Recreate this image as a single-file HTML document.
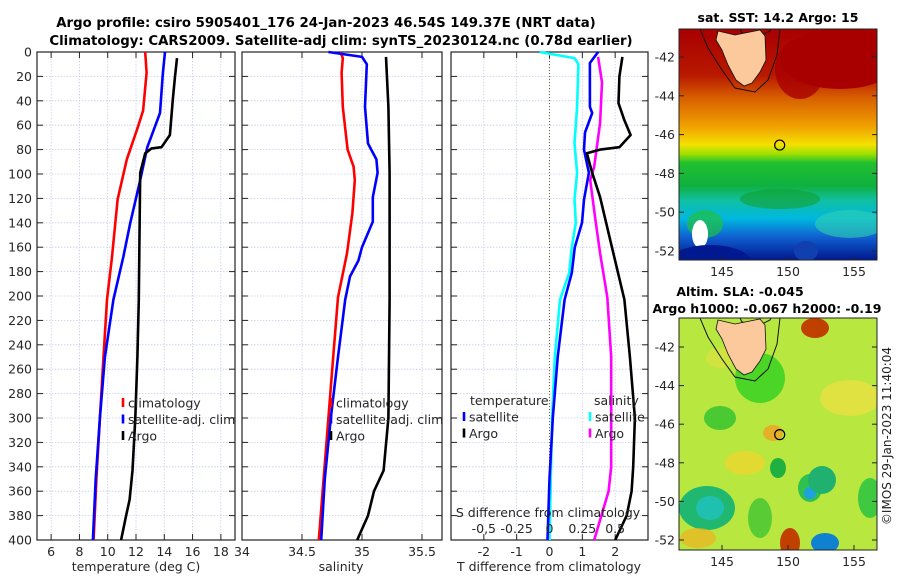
<!DOCTYPE html>
<html><head><meta charset="utf-8"><style>
body{margin:0;background:#fff;}
svg{display:block;font-family:"DejaVu Sans","Liberation Sans",sans-serif;}
</style></head><body>
<svg id="c" width="900" height="580" viewBox="0 0 900 580">
<defs>
<linearGradient id="sstg" x1="0" y1="0" x2="0" y2="1">
<stop offset="0" stop-color="#a80000"/><stop offset="0.2" stop-color="#b81800"/>
<stop offset="0.3" stop-color="#d86000"/><stop offset="0.42" stop-color="#f0a000"/>
<stop offset="0.5" stop-color="#f4e000"/><stop offset="0.54" stop-color="#a0e000"/>
<stop offset="0.58" stop-color="#20c030"/><stop offset="0.68" stop-color="#10b040"/>
<stop offset="0.74" stop-color="#10c0a0"/><stop offset="0.82" stop-color="#00b8e0"/>
<stop offset="0.9" stop-color="#1060d0"/><stop offset="1" stop-color="#001890"/>
</linearGradient>
<clipPath id="m1"><rect x="679" y="29" width="198" height="231"/></clipPath>
<clipPath id="m2"><rect x="679" y="318" width="198" height="232"/></clipPath>
</defs>
<g id="titles" font-weight="bold" font-size="13.3" text-anchor="middle" fill="#000">
<text x="326" y="27">Argo profile: csiro 5905401_176 24-Jan-2023 46.54S 149.37E (NRT data)</text>
<text x="341" y="45">Climatology: CARS2009. Satellite-adj clim: synTS_20230124.nc (0.78d earlier)</text>
<text x="778" y="22" font-size="12.5">sat. SST: 14.2 Argo: 15</text>
<text x="740" y="296" font-size="12.5">Altim. SLA: -0.045</text>
<text x="767" y="313" font-size="12.5">Argo h1000: -0.067 h2000: -0.19</text>
</g>
<g id="maps"></g>
<g id="panels"></g>
<text transform="translate(891,436) rotate(-90)" font-size="12" text-anchor="middle" fill="#222">©IMOS 29-Jan-2023 11:40:04</text>
</svg>
<script>
// ---- Data (depth in m) ----
const tClimDepth=[0,17,48,61,88,121,168,203,250,300,350,400];
const tClimVal=[12.65,12.75,12.5,12.15,11.35,10.7,10.3,9.95,9.7,9.45,9.2,9.0];
const tSatDepth=[0,17,50,78,105,140,168,203,250,300,350,400];
const tSatVal=[14.05,13.9,13.7,12.8,12.3,11.6,11.1,10.4,9.8,9.45,9.15,8.95];
const tArgoDepth=[5,21,39,68,78,79,83,99,150,203,250,300,343,367,380,400];
const tArgoVal=[14.9,14.75,14.6,14.4,13.8,13.1,12.65,12.3,12.25,12.2,12.1,11.95,11.75,11.55,11.3,10.95];
const sClimDepth=[0,5,17,45,80,94,105,132,165,201,250,300,350,400];
const sClimVal=[34.82,34.84,34.83,34.84,34.88,34.93,34.94,34.92,34.875,34.8,34.76,34.72,34.68,34.64];
const sSatDepth=[0,4,10,45,75,88,99,119,139,160,171,184,203,250,300,350,400];
const sSatVal=[34.72,35.0,35.04,35.025,35.05,35.12,35.13,35.09,35.09,35.0,34.97,34.9,34.86,34.8,34.74,34.69,34.66];
const sArgoDepth=[4,45,99,203,300,343,360,380,400];
const sArgoVal=[35.2,35.22,35.23,35.23,35.22,35.18,35.1,35.05,34.96];
const dSatSDepth=[0,5,10,45,75,99,121,140,160,181,203,250,300,350,400];
const dSatSVal=[-0.075,0.19,0.22,0.21,0.19,0.21,0.19,0.2,0.17,0.15,0.08,0.04,0.02,0.01,0.0];
const dSatTDepth=[0,9,45,50,66,80,99,121,140,160,181,203,250,300,350,400];
const dSatTVal=[1.48,1.23,1.23,1.3,1.08,1.05,1.2,1.05,0.99,0.77,0.68,0.46,0.25,0.1,0.0,-0.06];
const dArgoSDepth=[4,25,58,94,105,138,165,201,250,300,340,360,400];
const dArgoSVal=[0.37,0.4,0.385,0.34,0.31,0.35,0.385,0.44,0.47,0.47,0.47,0.45,0.34];
const dArgoTDepth=[4,20,42,56,68,78,80,83,99,119,154,203,250,300,340,360,380,400];
const dArgoTVal=[2.22,2.13,2.1,2.28,2.47,2.13,1.54,1.14,1.3,1.54,1.85,2.28,2.45,2.6,2.55,2.5,2.35,2.0];
const depthTicks=[0,20,40,60,80,100,120,140,160,180,200,220,240,260,280,300,320,340,360,380,400];
const tTicks=[6,8,10,12,14,16,18];
const sTicks=[34,34.5,35,35.5];
const sTickLabels=["34","34.5","35","35.5"];
const dTTicks=[-2,-1,0,1,2];
const dSTicks=[-0.5,-0.25,0,0.25,0.5];
const dSTickLabels=["-0,5","-0.25","0","0.25","0.5"];

const NS="http://www.w3.org/2000/svg";
const P=document.getElementById('panels');
function el(t,a,parent){const e=document.createElementNS(NS,t);for(const k in a)e.setAttribute(k,a[k]);(parent||P).appendChild(e);return e;}
const Y0=52,Y1=540;
const yD=d=>Y0+(Y1-Y0)*d/400;

function panel(name,x0,x1,dmin,dmax,ticks,labels,leftLabels){
  const sx=v=>x0+(x1-x0)*(v-dmin)/(dmax-dmin);
  const g=el('g',{});
  
  
  depthTicks.forEach(d=>{
    const l=el('line',{x1:x0,x2:x1,y1:yD(d),y2:yD(d),stroke:'#c8cde8','stroke-width':0.8,'stroke-dasharray':'1.5,1.5'},g);
    
    
    el('line',{x1:x0,x2:x0+6,y1:yD(d),y2:yD(d),stroke:'#222'},g);
    el('line',{x1:x1-6,x2:x1,y1:yD(d),y2:yD(d),stroke:'#222'},g);
    if(leftLabels){const t=el('text',{x:x0-5,y:yD(d)+4.5,'text-anchor':'end','font-size':12.5,fill:'#262626'},g);t.textContent=d;
      
      }
  });
  ticks.forEach((v,i)=>{
    const x=sx(v);
    const l=el('line',{x1:x,x2:x,y1:Y0,y2:Y1,stroke:'#c8cde8','stroke-width':0.8,'stroke-dasharray':'1.5,1.5'},g);
    
    
    el('line',{x1:x,x2:x,y1:Y1,y2:Y1-6,stroke:'#222'},g);
    el('line',{x1:x,x2:x,y1:Y0,y2:Y0+6,stroke:'#222'},g);
    const t=el('text',{x:x,y:Y1+16,'text-anchor':'middle','font-size':12.5,fill:'#262626'},g);t.textContent=labels[i];
    
    
  });
  const r=el('rect',{x:x0,y:Y0,width:x1-x0,height:Y1-Y0,fill:'none',stroke:'#222','stroke-width':1.2},g);
  
  
  return {g,sx};
}
function line(pn,vals,deps,color,name){
  const pts=vals.map((v,i)=>pn.sx(v).toFixed(1)+','+yD(deps[i]).toFixed(1)).join(' ');
  const l=el('polyline',{points:pts,fill:'none',stroke:color,'stroke-width':2.6,'stroke-linejoin':'round'},pn.g);
  
  
}
function txt(g,x,y,s,opts){const t=el('text',Object.assign({x:x,y:y,'font-size':12.5,fill:'#262626'},opts||{}),g);t.textContent=s;return t;}
function legend(g,x,y,items){
  items.forEach((it,i)=>{
    const yy=y+i*16.5;
    const m=el('line',{x1:x,x2:x,y1:yy-5,y2:yy+4,stroke:it[1],'stroke-width':2.6},g);
    
    
    const t=txt(g,x+5,yy+4.5,it[0]);
    
    
  });
}

// Panel 1: temperature
const p1=panel('temperature-panel',37,235,5,19,tTicks,tTicks.map(String),true);
line(p1,tClimVal,tClimDepth,'#ff0000','temp-climatology-line');
line(p1,tSatVal,tSatDepth,'#0000ff','temp-satellite-line');
line(p1,tArgoVal,tArgoDepth,'#000000','temp-argo-line');
legend(p1.g,123,403,[['climatology','#ff0000'],['satellite-adj. clim','#0000ff'],['Argo','#000']]);
let t=txt(p1.g,136,571,'temperature (deg C)',{'text-anchor':'middle'});
 

// Panel 2: salinity
const p2=panel('salinity-panel',242,442,34,35.6667,sTicks,sTickLabels,false);
line(p2,sClimVal,sClimDepth,'#ff0000','sal-climatology-line');
line(p2,sSatVal,sSatDepth,'#0000ff','sal-satellite-line');
line(p2,sArgoVal,sArgoDepth,'#000000','sal-argo-line');
legend(p2.g,331,403,[['climatology','#ff0000'],['satellite-adj. clim','#0000ff'],['Argo','#000']]);
t=txt(p2.g,341,571,'salinity',{'text-anchor':'middle'});
 

// Panel 3: differences
const p3=panel('difference-panel',451,648,-3,3,dTTicks,dTTicks.map(String),false);
const sxS=v=>p3.sx(v*4);
el('line',{x1:p3.sx(0),x2:p3.sx(0),y1:Y0,y2:Y1,stroke:'#7a5a30','stroke-width':1,'stroke-dasharray':'1,2'},p3.g);
line({g:p3.g,sx:sxS},dSatSVal,dSatSDepth,'#00ffff','sal-diff-satellite-line');
line(p3,dSatTVal,dSatTDepth,'#0000ff','temp-diff-satellite-line');
line({g:p3.g,sx:sxS},dArgoSVal,dArgoSDepth,'#ff00ff','sal-diff-argo-line');
line(p3,dArgoTVal,dArgoTDepth,'#000000','temp-diff-argo-line');
t=txt(p3.g,470,405,'temperature');  
t=txt(p3.g,594,405,'salinity');  
legend(p3.g,464,417,[['satellite','#0000ff'],['Argo','#000']]);
legend(p3.g,590,417,[['satellite','#00ffff'],['Argo','#ff00ff']]);
t=txt(p3.g,548,517,'S difference from climatology',{'text-anchor':'middle'});
 
dSTicks.forEach((v,i)=>{const tt=txt(p3.g,sxS(v),533,dSTickLabels[i],{'text-anchor':'middle'});
   });
t=txt(p3.g,549,571,'T difference from climatology',{'text-anchor':'middle'});
 

// ---- Maps ----
const M=document.getElementById('maps');
function mapFrame(name,y0,y1,latTop,latBot,fill,clip,blobs){
  const g=el('g',{},M);
  
  
  const lx=lon=>722+(lon-145)*13.2;
  const ly=lat=>latTop.y+(lat-latTop.v)*(latBot.y-latTop.y)/(latBot.v-latTop.v);
  const inner=el('g',{'clip-path':'url(#'+clip+')'},g);
  el('rect',{x:679,y:y0,width:198,height:y1-y0,fill:fill},inner);
  blobs.forEach(b=>el('ellipse',{cx:b[0],cy:b[1]+y0,rx:b[2],ry:b[3],fill:b[4],opacity:b[5]||1},inner));
  const o=y0-29;
  el('path',{d:`M700 ${29+o} L740 ${29+o} L742 ${33+o} L760 ${36+o} L770 ${31+o} L771 ${29+o} L780 ${29+o} L777 ${55+o} L768 ${80+o} L755 ${92+o} L735 ${88+o} L722 ${70+o} L708 ${48+o} Z`,fill:'none',stroke:'#111','stroke-width':1},inner);
  const ts=el('path',{d:`M718 ${31+o} L735 ${35+o} L745 ${33+o} L760 ${30+o} L765 ${36+o} L766 ${60+o} L760 ${72+o} L752 ${83+o} L744 ${86+o} L736 ${80+o} L728 ${65+o} L722 ${50+o} L716 ${40+o} Z`,fill:'#fbc99c',stroke:'#111','stroke-width':0.8},inner);
  
  
  const cx=lx(149.37), cy=ly(-46.54);
  const pt=el('circle',{cx:cx,cy:cy,r:5,fill:'none',stroke:'#000','stroke-width':1.2},g);
  
  
  el('rect',{x:679,y:y0,width:198,height:y1-y0,fill:'none',stroke:'#222','stroke-width':1},g);
  [-42,-44,-46,-48,-50,-52].forEach(la=>{
    const y=ly(la);
    el('line',{x1:679,x2:684,y1:y,y2:y,stroke:'#222'},g);
    el('line',{x1:872,x2:877,y1:y,y2:y,stroke:'#222'},g);
    const tt=txt(g,675,y+4.5,String(la),{'text-anchor':'end'});
     
  });
  [145,150,155].forEach(lo=>{
    const x=lx(lo);
    el('line',{x1:x,x2:x,y1:y1,y2:y1-5,stroke:'#222'},g);
    const tt=txt(g,x,y1+16,String(lo),{'text-anchor':'middle'});
     
  });
}
mapFrame('sst-map',29,260,{v:-42,y:57},{v:-52,y:251},'url(#sstg)','m1',[
  [840,30,60,30,'#a80000'],[800,40,25,30,'#a80000',0.8],
  [705,195,18,14,'#20c040',0.7],[700,205,8,14,'#ffffff'],[806,222,12,10,'#1040b0'],
  [710,232,40,16,'#001890'],[760,240,14,8,'#ffffff'],[850,195,35,14,'#30d0b0',0.6],
  [780,170,40,10,'#10a030',0.6]]);
mapFrame('sla-map',318,550,{v:-42,y:347},{v:-52,y:540},'#b8e840','m2',[
  [760,60,25,25,'#30d020',0.8],[720,100,16,12,'#30c030',0.8],[815,10,14,10,'#c04000'],
  [745,145,20,12,'#e8d830',0.9],[778,150,8,10,'#20b040'],[773,115,10,8,'#f0a020',0.8],
  [850,80,30,18,'#f0e040',0.7],[707,190,28,22,'#20b870'],[710,190,14,12,'#20c0b0'],
  [810,170,12,14,'#30c050'],[810,175,6,6,'#20a0e0'],[822,162,14,14,'#20b070'],
  [790,225,10,15,'#c04000'],[825,225,14,10,'#1080d0'],[720,40,14,10,'#e0e040',0.6],
  [698,220,18,10,'#f0b020',0.7],[870,180,12,20,'#20c040',0.8],[760,200,12,20,'#30c030',0.7]]);
</script>
</body></html>
